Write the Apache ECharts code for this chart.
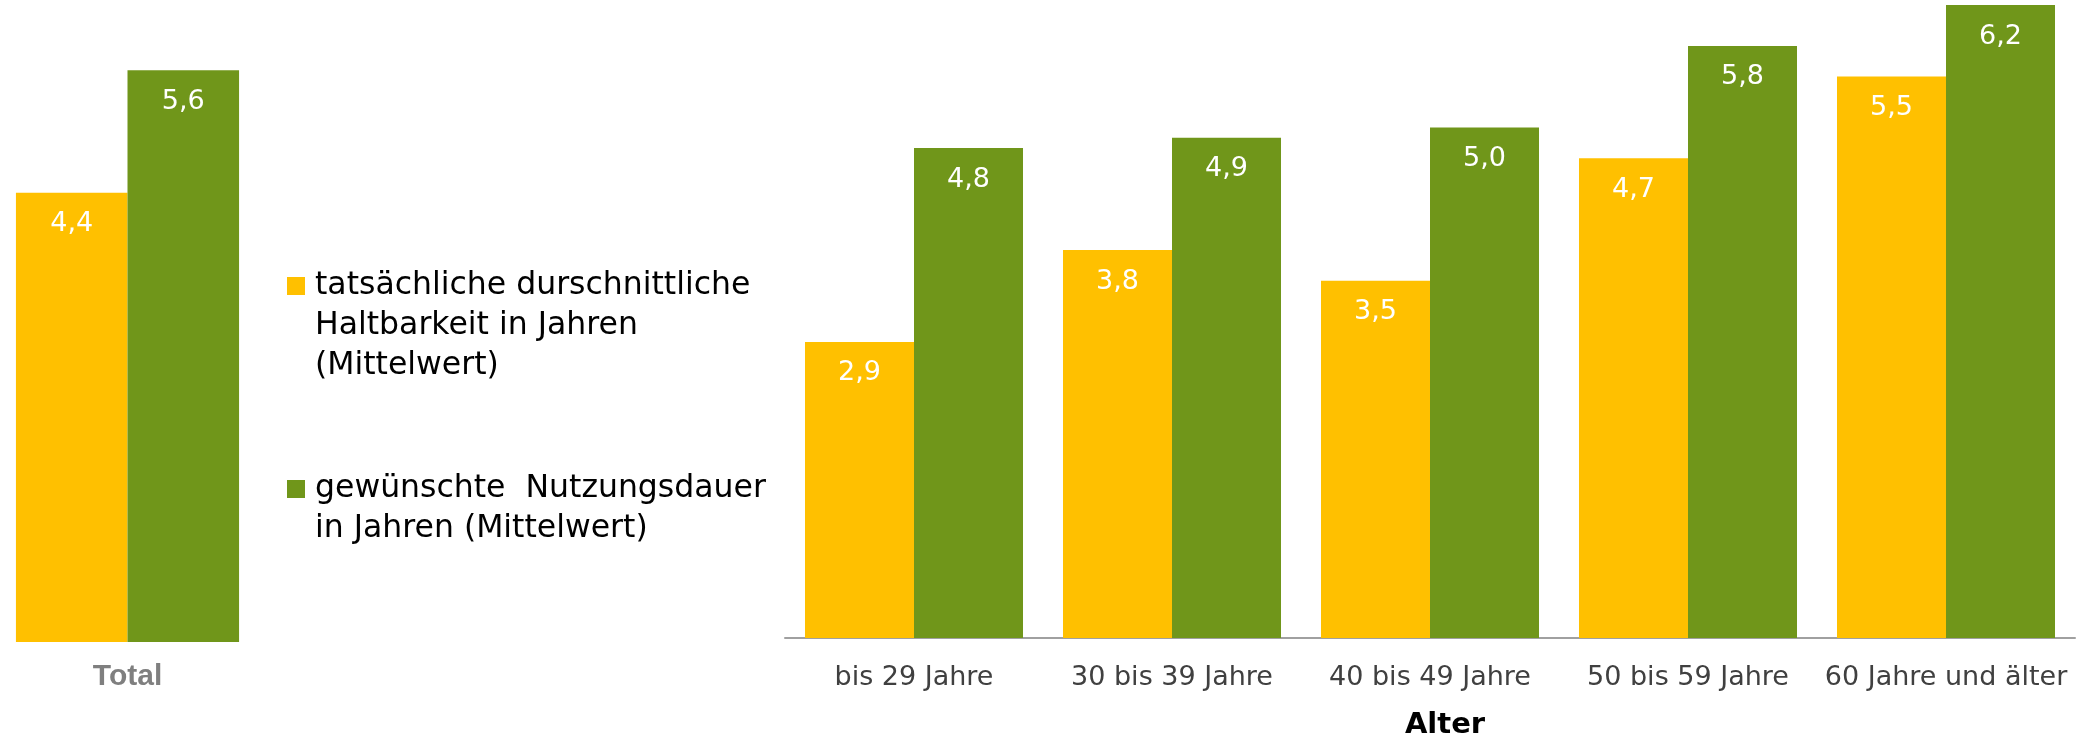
<!DOCTYPE html>
<html>
<head>
<meta charset="utf-8">
<script src="https://cdn.jsdelivr.net/npm/echarts@6/dist/echarts.min.js"></script>
<style>
  html, body { margin: 0; padding: 0; background: #fff; }
  #chart { width: 2083px; height: 738px; }
</style>
</head>
<body>
<div id="chart"></div>
<script>
// Daten
var totalCategories = ['Total'];
var totalIst = [4.4];
var totalWunsch = [5.6];

var ageCategories = ['bis 29 Jahre', '30 bis 39 Jahre', '40 bis 49 Jahre', '50 bis 59 Jahre', '60 Jahre und älter'];
var ageIst = [2.9, 3.8, 3.5, 4.7, 5.5];
var ageWunsch = [4.8, 4.9, 5.0, 5.8, 6.2];

var nameIst = 'tatsächliche durschnittliche\nHaltbarkeit in Jahren\n(Mittelwert)';
var nameWunsch = 'gewünschte  Nutzungsdauer\nin Jahren (Mittelwert)';

var gelb = '#FFC000';
var gruen = '#70961A';

var chart = echarts.init(document.getElementById('chart'));

// Beschriftung in den Balken (Komma als Dezimaltrenner)
var barLabel = {
    show: true,
    position: 'insideTop',
    distance: 18,
    color: '#fff',
    fontFamily: 'DejaVu Sans',
    fontSize: 27,
    formatter: function (p) { return p.value.toFixed(1).replace('.', ','); }
};

var legendText = {
    fontFamily: 'DejaVu Sans',
    fontSize: 31.5,
    lineHeight: 40,
    color: '#000',
    padding: [0, 0, 0, 5]
};

// Leerzeilen davor, damit das Kästchen auf Höhe der ersten Zeile sitzt
function legendFormatter(name) {
    var n = name.split('\n').length;
    return new Array(n).join('\n') + name;
}

var option = {
    animation: false,
    legend: [
        {
            data: [nameIst],
            left: 287,
            top: 186,
            padding: 0,
            icon: 'rect',
            itemWidth: 18,
            itemHeight: 18,
            selectedMode: false,
            formatter: legendFormatter,
            textStyle: legendText
        },
        {
            data: [nameWunsch],
            left: 287,
            top: 429,
            padding: 0,
            icon: 'rect',
            itemWidth: 18,
            itemHeight: 18,
            selectedMode: false,
            formatter: legendFormatter,
            textStyle: legendText
        }
    ],
    grid: [
        { left: 0, width: 255, top: 4, bottom: 96, outerBoundsMode: 'none' },
        { left: 785, right: 8, top: 0, bottom: 100, outerBoundsMode: 'none' }
    ],
    xAxis: [
        {
            gridIndex: 0,
            type: 'category',
            data: totalCategories,
            axisLine: { show: false },
            axisTick: { show: false },
            axisLabel: {
                margin: 20,
                color: '#7f7f7f',
                fontFamily: 'Liberation Sans',
                fontWeight: 'bold',
                fontSize: 30
            }
        },
        {
            gridIndex: 1,
            type: 'category',
            data: ageCategories,
            axisLine: { show: true, lineStyle: { color: '#a0a0a0', width: 2 } },
            axisTick: { show: false },
            axisLabel: {
                margin: 26,
                interval: 0,
                color: '#404040',
                fontFamily: 'DejaVu Sans',
                fontSize: 27
            },
            name: 'Alter',
            nameLocation: 'middle',
            nameGap: 73,
            nameTextStyle: {
                color: '#000',
                fontFamily: 'DejaVu Sans',
                fontWeight: 'bold',
                fontSize: 29,
                padding: [0, 0, 0, 30]
            }
        }
    ],
    yAxis: [
        { gridIndex: 0, type: 'value', min: 0, max: 6.25, show: false, splitLine: { show: false } },
        { gridIndex: 1, type: 'value', min: 0, max: 6.25, show: false, splitLine: { show: false } }
    ],
    series: [
        {
            name: nameIst,
            type: 'bar',
            xAxisIndex: 0,
            yAxisIndex: 0,
            data: totalIst,
            barGap: '0%',
            barCategoryGap: '12.5%',
            itemStyle: { color: gelb },
            label: barLabel
        },
        {
            name: nameWunsch,
            type: 'bar',
            xAxisIndex: 0,
            yAxisIndex: 0,
            data: totalWunsch,
            barGap: '0%',
            barCategoryGap: '12.5%',
            itemStyle: { color: gruen },
            label: barLabel
        },
        {
            name: nameIst,
            type: 'bar',
            xAxisIndex: 1,
            yAxisIndex: 1,
            data: ageIst,
            barGap: '0%',
            barCategoryGap: '15.5%',
            itemStyle: { color: gelb },
            label: barLabel
        },
        {
            name: nameWunsch,
            type: 'bar',
            xAxisIndex: 1,
            yAxisIndex: 1,
            data: ageWunsch,
            barGap: '0%',
            barCategoryGap: '15.5%',
            itemStyle: { color: gruen },
            label: barLabel
        }
    ]
};

chart.setOption(option);
</script>
</body>
</html>
